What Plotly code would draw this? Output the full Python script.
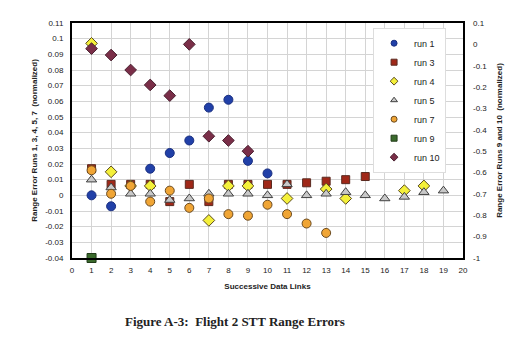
import plotly.graph_objects as go

# ---- data ----
run1_x = [1, 2, 4, 5, 6, 7, 8, 9, 10]
run1_y = [0.000, -0.007, 0.017, 0.027, 0.035, 0.056, 0.061, 0.022, 0.014]

run3_x = [1, 2, 3, 4, 5, 6, 7, 8, 9, 10, 11, 12, 13, 14, 15]
run3_y = [0.017, 0.007, 0.007, 0.007, -0.004, 0.007, -0.004, 0.007, 0.007, 0.007, 0.007, 0.008, 0.009, 0.010, 0.012]

run4_x = [1, 2, 3, 4, 7, 8, 9, 11, 13, 14, 17, 18]
run4_y = [0.097, 0.015, 0.006, 0.006, -0.016, 0.006, 0.006, -0.002, 0.004, -0.002, 0.003, 0.006]

run5_x = [1, 2, 3, 4, 5, 6, 7, 8, 9, 10, 11, 12, 13, 14, 15, 16, 17, 18, 19]
run5_y = [0.010, 0.005, 0.001, 0.001, -0.003, -0.002, 0.001, 0.001, 0.001, 0.000, 0.007, 0.000, 0.001, 0.002, 0.000, -0.002, -0.001, 0.002, 0.003]

run7_x = [1, 2, 3, 4, 5, 6, 7, 8, 9, 10, 11, 12, 13]
run7_y = [0.016, 0.001, 0.006, -0.004, 0.003, -0.008, -0.002, -0.012, -0.013, -0.006, -0.012, -0.018, -0.024]

run9_x = [1]
run9_y = [-1.0]

run10_x = [1, 2, 3, 4, 5, 6, 7, 8, 9]
run10_y = [-0.02, -0.05, -0.12, -0.19, -0.24, 0.00, -0.43, -0.45, -0.50]

left_ticks = [0.11, 0.1, 0.09, 0.08, 0.07, 0.06, 0.05, 0.04, 0.03, 0.02, 0.01, 0, -0.01, -0.02, -0.03, -0.04]
left_labels = ["0.11", "0.1", "0.09", "0.08", "0.07", "0.06", "0.05", "0.04", "0.03", "0.02", "0.01", "0", "-0.01", "-0.02", "-0.03", "-0.04"]
right_ticks = [0.1, 0, -0.1, -0.2, -0.3, -0.4, -0.5, -0.6, -0.7, -0.8, -0.9, -1]
right_labels = ["0.1", "0", "-0.1", "-0.2", "-0.3", "-0.4", "-0.5", "-0.6", "-0.7", "-0.8", "-0.9", "-1"]
x_ticks = list(range(0, 21))

FONT = "Liberation Sans, Arial, sans-serif"

fig = go.Figure()

def add(x, y, name, symbol, color, line_color, size, yaxis="y"):
    fig.add_trace(go.Scatter(
        x=x, y=y, name=name, mode="markers", yaxis=yaxis, showlegend=False,
        cliponaxis=False,
        marker=dict(symbol=symbol, color=color, size=size,
                    line=dict(color=line_color, width=1)),
    ))
    # small legend-only entry (legend symbols are smaller than plotted marks)
    fig.add_trace(go.Scatter(
        x=[None], y=[None], name=name, mode="markers", yaxis=yaxis,
        marker=dict(symbol=symbol, color=color, size=6,
                    line=dict(color=line_color, width=1)),
    ))

add(run1_x, run1_y, "run 1", "circle", "#2140a8", "#1a2f80", 9)
add(run3_x, run3_y, "run 3", "square", "#a02818", "#5a2a20", 8)
add(run4_x, run4_y, "run 4", "diamond", "#f4f03a", "#5a4a20", 9)
add(run5_x, run5_y, "run 5", "triangle-up", "#c8c8c8", "#404040", 9)
add(run7_x, run7_y, "run 7", "circle", "#f0a535", "#6a4a20", 9)
add(run9_x, run9_y, "run 9", "square", "#3a6a2c", "#203a18", 9, yaxis="y2")
add(run10_x, run10_y, "run 10", "diamond", "#7a2e48", "#4a2030", 9, yaxis="y2")

fig.update_layout(
    width=516, height=352,
    margin=dict(l=72, r=53, t=23, b=94),
    paper_bgcolor="white", plot_bgcolor="white",
    font=dict(family=FONT, size=8, color="#222222"),
    showlegend=True,
    legend=dict(x=0.77, y=0.98, xanchor="left", yanchor="top",
                bgcolor="white", bordercolor="#dddddd", borderwidth=1,
                font=dict(size=9, color="#222222"), itemwidth=30,
                tracegroupgap=0),
    xaxis=dict(range=[0, 20], tickvals=x_ticks, ticktext=[str(v) for v in x_ticks],
               showgrid=True, gridcolor="#d4d4d4", gridwidth=1,
               showline=True, linecolor="black", linewidth=2, mirror=True,
               zeroline=False, ticks="", tickfont=dict(size=8), ticklabelstandoff=3,
               title=dict(text="<b>Successive Data Links</b>", font=dict(size=8), standoff=10)),
    yaxis=dict(range=[-0.04, 0.11], tickvals=left_ticks, ticktext=left_labels,
               showgrid=True, gridcolor="#d4d4d4", gridwidth=1,
               showline=True, linecolor="black", linewidth=2, mirror=True,
               zeroline=False, ticks="", tickfont=dict(size=8), ticklabelstandoff=5,
               title=dict(text="<b>Range Error Runs 1, 3, 4, 5, 7  (normalized)</b>", font=dict(size=8), standoff=6)),
    yaxis2=dict(range=[-1, 0.1], tickvals=right_ticks, ticktext=right_labels,
                overlaying="y", side="right", showgrid=False, zeroline=False,
                showline=False, ticks="", tickfont=dict(size=8), ticklabelstandoff=9,
                title=dict(text="<b>Range Error Runs 9 and 10  (normalized)</b>", font=dict(size=8), standoff=10)),
    annotations=[dict(text="<b>Figure A-3:  Flight 2 STT Range Errors</b>",
                      xref="paper", yref="paper", x=0.417, y=-0.272,
                      xanchor="center", yanchor="middle", showarrow=False,
                      font=dict(family="Liberation Serif, Times New Roman, serif", size=13, color="#222222"))],
)

fig.write_html("out.html")
